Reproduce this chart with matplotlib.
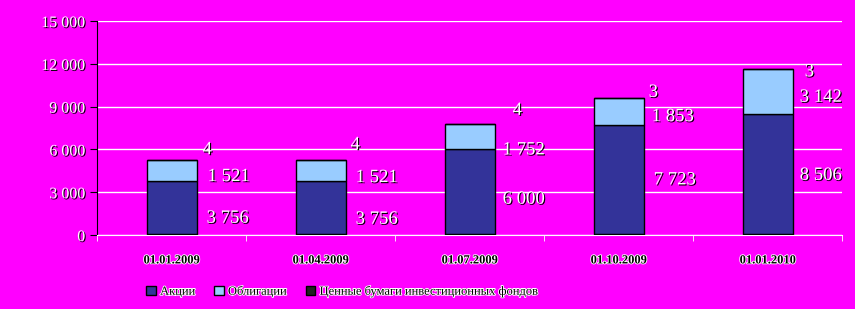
import numpy as np
import matplotlib as mpl
from matplotlib import pyplot as plt
import matplotlib.patheffects as pe

mpl.rcParams['font.family'] = ['Liberation Serif', 'DejaVu Serif']

# data
dates = ['01.01.2009', '01.04.2009', '01.07.2009', '01.10.2009', '01.01.2010']
akcii = [3756, 3756, 6000, 7723, 8506]
obligacii = [1521, 1521, 1752, 1853, 3142]
fondy = [4, 4, 4, 3, 3]
names = ['Акции', 'Облигации', 'Ценные бумаги инвестиционных фондов']
yticks = [0, 3000, 6000, 9000, 12000, 15000]

# label nudges in pixels (dx, dy) -- labels were moved by hand in the original
nudge_ak = [(10, -10), (10, -11), (8, -7), (10, 0), (7, -1)]
nudge_ob = [(11, -6), (10, -7), (8, -13), (8, -5), (7, -6)]
nudge_fo = [(6, 10), (5, 15), (18, 14), (5, 6), (12, -3)]

bg = '#ff00ff'
c_ak = '#333399'
c_ob = '#99ccff'
c_fo = '#222222'

def fmt(v):
    return '{:,}'.format(v).replace(',', ' ')

white_fx = [pe.withSimplePatchShadow(offset=(0.8, -0.8), shadow_rgbFace='black', alpha=1.0)]
black_fx = [pe.withStroke(linewidth=1.2, foreground='white')]

fig = plt.figure(figsize=(8.55, 3.09), dpi=100, facecolor=bg)
ax = fig.add_axes([0.1135, 0.2395, 0.8715, 0.6925], facecolor=bg)

x = np.arange(len(dates))
w = 0.336
ak = np.array(akcii)
ob = np.array(obligacii)
fo = np.array(fondy)

ax.bar(x, ak, w, color=c_ak, edgecolor='black', linewidth=1, label=names[0], zorder=3)
ax.bar(x, ob, w, bottom=ak, color=c_ob, edgecolor='black', linewidth=1, label=names[1], zorder=3)
ax.bar(x, fo, w, bottom=ak + ob, color=c_fo, edgecolor='black', linewidth=1, label=names[2], zorder=3)
# thick base line of the bars
ax.hlines(np.zeros(len(x)), x - w / 2, x + w / 2, colors='black', linewidth=2.5, zorder=4)

lab = dict(va='center', ha='left', color='white', fontsize=13.5,
           textcoords='offset pixels', path_effects=white_fx)
for i in range(len(x)):
    xr = x[i] + w / 2
    ax.annotate(fmt(ak[i]), (xr, ak[i] / 2), xytext=nudge_ak[i], **lab)
    ax.annotate(fmt(ob[i]), (xr, ak[i] + ob[i] / 2), xytext=nudge_ob[i], **lab)
    ax.annotate(fmt(fo[i]), (xr, ak[i] + ob[i] + fo[i]), xytext=nudge_fo[i], **lab)

ax.set_xlim(-0.5, len(x) - 0.5)
ax.set_ylim(0, 15000)
ax.set_yticks(yticks)
ax.set_yticklabels([fmt(v) for v in yticks], color='white', fontsize=11.5)
for t in ax.get_yticklabels():
    t.set_path_effects(white_fx)
ax.grid(axis='y', color='white', linewidth=1, zorder=0)

ax.set_xticks(x)
ax.set_xticklabels(dates, fontsize=9, fontweight='bold', color='black')
for t in ax.get_xticklabels():
    t.set_path_effects(black_fx)
ax.set_xticks(np.arange(len(x) + 1) - 0.5, minor=True)
ax.tick_params(axis='x', which='major', length=0, pad=14)
ax.tick_params(axis='x', which='minor', length=4, color='white', direction='out')
ax.tick_params(axis='y', length=5, color='black', direction='out')

for s in ['top', 'right']:
    ax.spines[s].set_visible(False)
ax.spines['bottom'].set_color('white')
ax.spines['left'].set_color('black')

leg = fig.legend(loc='lower left', bbox_to_anchor=(0.158, 0.0), ncol=3, frameon=False,
                 fontsize=9, handlelength=0.75, handleheight=0.75, handletextpad=0.35,
                 columnspacing=1.5)
for t in leg.get_texts():
    t.set_path_effects(black_fx)

fig.savefig('out.png', dpi=100, facecolor=bg)
